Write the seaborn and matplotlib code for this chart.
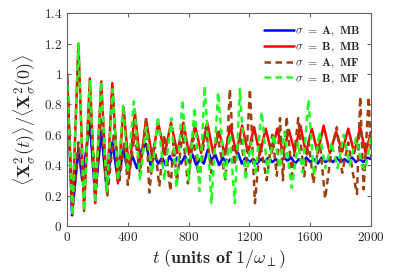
import numpy as np
import pandas as pd
import matplotlib
matplotlib.use("Agg")
import matplotlib.pyplot as plt
import seaborn as sns
from matplotlib.ticker import FuncFormatter

# --- values (peaks / troughs of each curve) ---
blue_t = [0, 33, 75, 100, 150, 185, 225, 260, 298, 335, 372, 400, 430, 460, 490, 520, 545,
          550, 575, 600, 625, 650, 675, 700, 725, 750, 775, 800, 825, 850, 875, 900, 925,
          950, 975, 1000, 1025, 1050, 1075, 1100, 1125, 1150, 1175, 1200, 1225, 1250, 1275,
          1300, 1325, 1350, 1375, 1400, 1425, 1450, 1475, 1500, 1525, 1550, 1575, 1600, 1625,
          1650, 1675, 1700, 1725, 1750, 1775, 1800, 1825, 1850, 1875, 1900, 1925, 1950, 1975, 2000]
blue_v = [1.0, 0.07, 0.51, 0.30, 0.68, 0.20, 0.62, 0.25, 0.55, 0.30, 0.50, 0.36, 0.46, 0.38, 0.50, 0.54, 0.42,
          0.40, 0.46, 0.41, 0.45, 0.40, 0.46, 0.41, 0.45, 0.41, 0.46, 0.42, 0.47, 0.40, 0.44, 0.41, 0.50,
          0.43, 0.47, 0.40, 0.45, 0.41, 0.44, 0.42, 0.48, 0.41, 0.45, 0.42, 0.44, 0.41, 0.44,
          0.42, 0.45, 0.42, 0.44, 0.41, 0.45, 0.43, 0.45, 0.41, 0.44, 0.42, 0.45, 0.42, 0.44,
          0.41, 0.45, 0.42, 0.44, 0.42, 0.45, 0.42, 0.44, 0.42, 0.45, 0.42, 0.44, 0.42, 0.45, 0.44]

red_t = [0, 35, 75, 112, 150, 186, 225, 262, 298, 335, 372, 409, 446, 483, 520, 560, 600, 642,
         684, 725, 765, 803, 842, 882, 922, 961, 1000, 1038, 1075, 1113, 1152, 1191, 1230, 1268,
         1307, 1345, 1383, 1421, 1460, 1497, 1535, 1572, 1610, 1649, 1688, 1729, 1770, 1810,
         1850, 1889, 1928, 1964, 2000]
red_v = [1.0, 0.08, 1.2, 0.10, 0.97, 0.15, 0.95, 0.22, 0.94, 0.28, 0.78, 0.35, 0.75, 0.40, 0.70, 0.45, 0.68, 0.47,
         0.68, 0.48, 0.68, 0.47, 0.66, 0.48, 0.68, 0.48, 0.62, 0.47, 0.66, 0.48, 0.66, 0.48, 0.65, 0.47,
         0.64, 0.48, 0.64, 0.48, 0.63, 0.49, 0.66, 0.48, 0.64, 0.48, 0.66, 0.48, 0.62, 0.49,
         0.64, 0.48, 0.65, 0.48, 0.62]

brown_t = [0, 35, 75, 110, 148, 185, 224, 265, 312, 345, 375, 400, 445, 480, 521, 541, 575, 607,
           640, 680, 700, 723, 760, 795, 830, 870, 913, 950, 985, 1043, 1071, 1100, 1140, 1175,
           1203, 1236, 1270, 1313, 1350, 1380, 1401, 1420, 1444, 1480, 1521, 1560, 1590, 1621,
           1660, 1698, 1740, 1775, 1810, 1850, 1880, 1907, 1929, 1951, 1984, 2000]
brown_v = [1.0, 0.07, 0.55, 0.25, 0.81, 0.30, 0.70, 0.20, 0.65, 0.30, 0.55, 0.27, 0.60, 0.35, 0.71, 0.22, 0.55, 0.26,
           0.60, 0.23, 0.55, 0.29, 0.62, 0.28, 0.58, 0.30, 0.65, 0.35, 0.62, 0.30, 0.90, 0.40, 0.60, 0.35,
           0.90, 0.15, 0.55, 0.30, 0.60, 0.33, 0.71, 0.30, 0.72, 0.33, 0.71, 0.32, 0.55, 0.28,
           0.58, 0.18, 0.50, 0.65, 0.35, 0.55, 0.35, 0.21, 0.85, 0.24, 0.85, 0.45]

green_t = [0, 35, 75, 112, 150, 185, 225, 262, 300, 335, 369, 400, 440, 480, 520, 560, 598, 640,
           686, 720, 759, 800, 840, 871, 906, 950, 994, 1040, 1070, 1104, 1137, 1175, 1210, 1240,
           1280, 1320, 1360, 1400, 1430, 1478, 1520, 1550, 1588, 1625, 1660, 1700, 1740, 1780,
           1820, 1860, 1900, 1940, 1962, 2000]
green_v = [1.0, 0.07, 1.2, 0.10, 0.96, 0.15, 0.95, 0.22, 0.90, 0.30, 0.80, 0.35, 0.82, 0.30, 0.65, 0.35, 0.72, 0.30,
           0.71, 0.25, 0.83, 0.30, 0.78, 0.23, 0.92, 0.15, 0.88, 0.30, 0.60, 0.15, 0.90, 0.30, 0.55, 0.35,
           0.75, 0.35, 0.60, 0.38, 0.62, 0.25, 0.55, 0.35, 0.83, 0.33, 0.62, 0.38, 0.55, 0.38,
           0.60, 0.40, 0.58, 0.40, 0.37, 0.60]

labels = [r'$\sigma\ =\ \mathbf{A,\ MB}$', r'$\sigma\ =\ \mathbf{B,\ MB}$',
          r'$\sigma\ =\ \mathbf{A,\ MF}$', r'$\sigma\ =\ \mathbf{B,\ MF}$']

sns.set_style("ticks")
plt.rcParams['mathtext.fontset'] = 'cm'
plt.rcParams['xtick.direction'] = 'in'
plt.rcParams['ytick.direction'] = 'in'

fig = plt.figure(figsize=(3.99, 2.79), dpi=100)
ax = fig.add_axes([0.168, 0.19, 0.762, 0.763])

series = [
    (blue_t, blue_v, '#0000ff', '-', labels[0]),
    (red_t, red_v, '#ff0000', '-', labels[1]),
    (brown_t, brown_v, '#a0400f', '--', labels[2]),
    (green_t, green_v, '#22ff22', '--', labels[3]),
]
for t, v, c, ls, lab in series:
    df = pd.DataFrame({'t': t, 'v': v})
    line = sns.lineplot(data=df, x='t', y='v', ax=ax, color=c, linestyle=ls,
                        linewidth=1.8, label=lab, sort=False).lines[-1]
    if ls == '--':
        line.set_dashes((2.6, 1.8))

ax.set_xlim(0, 2000)
ax.set_ylim(0, 1.4)
ax.set_xticks([0, 400, 800, 1200, 1600, 2000])
ax.set_yticks([0, 0.2, 0.4, 0.6, 0.8, 1.0, 1.2, 1.4])

def fmt(x, pos):
    s = f'{x:g}'
    return r'$\mathbf{' + s + '}$'

ax.xaxis.set_major_formatter(FuncFormatter(fmt))
ax.yaxis.set_major_formatter(FuncFormatter(fmt))
ax.tick_params(top=True, right=True, labelsize=9.5, length=3, color='#666666')
for s in ax.spines.values():
    s.set_color('#666666')
    s.set_linewidth(0.8)

ax.set_xlabel(r'$t\ \mathbf{(units\ of\ 1/}\omega_{\perp}\mathbf{)}$', fontsize=13, labelpad=2)
ax.set_ylabel(r'$\langle \mathbf{X}_{\sigma}^{2}(t)\rangle / \langle \mathbf{X}_{\sigma}^{2}(0)\rangle$',
              fontsize=13, labelpad=4)

leg = ax.legend(loc='upper right', frameon=False, fontsize=8.5, handlelength=2.5,
                handletextpad=0.1, labelspacing=0.15, borderaxespad=0.5)
for h in leg.get_lines():
    h.set_linewidth(1.8)

fig.savefig('out.png', dpi=100)
